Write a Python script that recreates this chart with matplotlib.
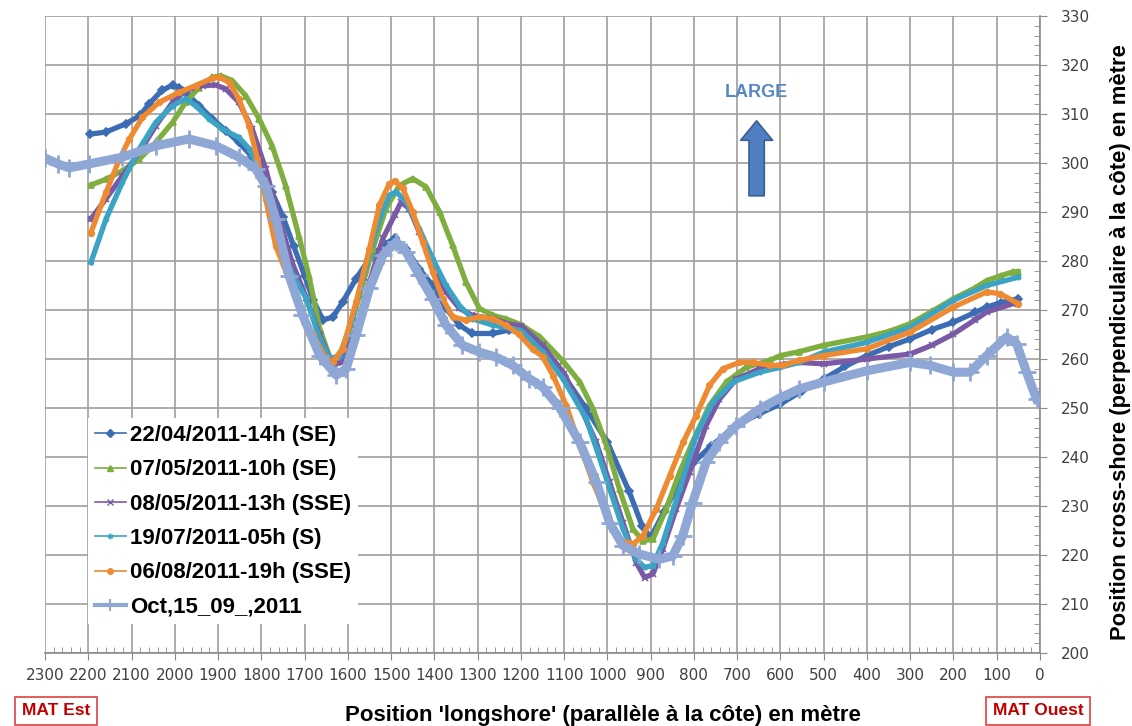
import numpy as np
import matplotlib.pyplot as plt
from matplotlib.lines import Line2D
from matplotlib.ticker import MultipleLocator

# values (x = longshore position, y = cross-shore position)
x_se_2204 = [2195, 2160, 2113, 2080, 2060, 2030, 2005, 1990, 1967, 1944, 1913, 1882, 1852, 1821, 1800,
             1775, 1750, 1725, 1700, 1680, 1658, 1635, 1612, 1581, 1550, 1519, 1492, 1465, 1435, 1404,
             1373, 1342, 1312, 1265, 1227, 1200, 1150, 1100, 1050, 1000, 950, 920, 900, 870, 833, 800,
             760, 700, 650, 600, 550, 500, 450, 400, 350, 300, 250, 200, 150, 123, 90, 50]
y_se_2204 = [305.9, 306.3, 308.0, 309.7, 312.0, 314.8, 315.9, 315.4, 313.7, 311.7, 309.0, 306.6, 304.2, 301.2, 298.8,
             294.0, 289.0, 283.0, 277.0, 272.0, 268.0, 268.5, 271.6, 276.4, 280.5, 283.2, 284.6, 282.5, 278.4, 275.0,
             270.3, 266.9, 265.2, 265.2, 265.9, 265.5, 262.0, 256.5, 250.0, 243.0, 233.0, 226.0, 223.5, 228.7, 234.8, 238.9,
             242.3, 246.5, 248.8, 250.8, 253.5, 255.9, 258.5, 260.7, 262.5, 264.1, 266.0, 267.5, 269.5, 270.6, 271.5, 272.3]

x_se_0705 = [2194, 2159, 2121, 2082, 2044, 2005, 1975, 1944, 1913, 1894, 1867, 1836, 1805, 1775, 1744,
             1713, 1690, 1665, 1642, 1627, 1604, 1573, 1542, 1512, 1481, 1450, 1419, 1388, 1358, 1327,
             1296, 1265, 1235, 1200, 1156, 1102, 1064, 1033, 1002, 972, 941, 918, 895, 864, 833, 802,
             764, 725, 679, 625, 600, 556, 500, 400, 350, 300, 250, 200, 150, 123, 90, 62, 50]
y_se_0705 = [295.5, 296.7, 298.4, 300.8, 304.2, 308.3, 312.4, 315.4, 317.5, 317.8, 316.8, 313.7, 309.0, 303.5, 295.4,
             285.0, 277.0, 266.2, 260.4, 260.0, 263.5, 273.0, 282.5, 290.7, 295.4, 296.8, 295.1, 290.0, 283.2, 275.7,
             270.3, 268.9, 268.2, 267.0, 264.5, 259.5, 255.3, 249.8, 242.3, 233.4, 225.3, 222.9, 223.2, 229.4, 236.9, 243.3,
             250.5, 255.3, 258.3, 259.7, 260.7, 261.5, 262.8, 264.5, 265.6, 267.2, 269.7, 272.3, 274.5, 276.0, 277.0, 277.8, 277.8]

x_sse_0805 = [2194, 2159, 2121, 2082, 2044, 2005, 1975, 1936, 1905, 1882, 1852, 1821, 1790, 1759, 1728,
              1696, 1665, 1635, 1612, 1581, 1550, 1519, 1492, 1477, 1458, 1435, 1404, 1373, 1342, 1312,
              1265, 1219, 1200, 1150, 1100, 1064, 1026, 995, 964, 933, 914, 895, 872, 841, 810, 772,
              741, 702, 648, 587, 556, 500, 400, 300, 250, 200, 150, 123, 62]
y_sse_0805 = [288.6, 292.7, 297.4, 302.2, 307.6, 312.4, 314.8, 315.8, 315.9, 315.1, 312.4, 306.9, 298.8, 288.6, 279.5,
              272.5, 264.8, 258.7, 259.4, 266.2, 275.7, 284.6, 289.3, 292.0, 290.7, 285.9, 279.1, 273.7, 270.3, 268.9,
              268.2, 266.9, 266.8, 262.8, 257.0, 250.5, 243.0, 234.8, 226.6, 218.4, 215.4, 216.1, 221.2, 229.4, 236.9, 246.4,
              251.8, 255.9, 258.0, 259.0, 259.3, 259.0, 260.0, 261.0, 262.8, 265.1, 268.0, 269.6, 271.3]

x_s_1907 = [2194, 2159, 2121, 2082, 2044, 2005, 1975, 1952, 1921, 1890, 1852, 1828, 1805, 1775, 1744,
            1720, 1696, 1665, 1642, 1619, 1589, 1558, 1527, 1504, 1488, 1465, 1435, 1404, 1373, 1342,
            1312, 1265, 1219, 1200, 1150, 1102, 1050, 1025, 964, 933, 914, 895, 872, 833, 795, 756,
            710, 648, 600, 556, 500, 400, 300, 200, 123, 50]
y_s_1907 = [279.7, 288.6, 296.1, 302.9, 308.3, 311.7, 313.1, 311.7, 309.0, 306.9, 305.2, 302.9, 298.8, 290.6, 280.4,
            276.0, 272.3, 264.1, 260.0, 260.7, 268.2, 279.1, 288.6, 293.4, 294.1, 292.0, 286.6, 280.5, 275.0, 270.9,
            268.2, 266.9, 266.2, 265.8, 261.5, 255.9, 248.0, 241.6, 225.3, 219.1, 217.5, 217.8, 222.5, 233.4, 244.3, 251.2,
            255.3, 257.3, 258.3, 259.3, 261.4, 263.4, 266.5, 272.0, 275.0, 276.7]

x_sse_0608 = [2194, 2159, 2128, 2105, 2075, 2036, 1990, 1952, 1913, 1898, 1875, 1852, 1828, 1809, 1790,
              1767, 1744, 1712, 1681, 1650, 1635, 1612, 1581, 1550, 1527, 1504, 1492, 1473, 1450, 1427,
              1404, 1381, 1358, 1327, 1296, 1265, 1235, 1204, 1173, 1150, 1125, 1095, 1064, 1033, 1002,
              972, 941, 918, 887, 856, 825, 795, 764, 733, 695, 664, 625, 595, 556, 500, 400, 300, 200,
              123, 92, 50]
y_sse_0608 = [285.8, 294.0, 300.8, 304.9, 309.3, 312.4, 314.4, 315.8, 317.3, 317.5, 316.5, 313.1, 307.6, 300.8, 292.7,
              283.1, 278.0, 271.0, 265.0, 260.0, 259.4, 262.1, 271.6, 282.5, 291.4, 295.8, 296.3, 294.8, 290.0, 283.9,
              277.8, 272.3, 268.6, 267.9, 268.6, 268.2, 266.9, 265.0, 262.0, 260.5, 256.5, 250.5, 242.3, 234.8, 228.0,
              223.2, 222.2, 223.9, 229.4, 236.2, 243.0, 248.4, 254.6, 258.0, 259.3, 259.3, 258.7, 258.7, 259.7, 260.7,
              262.1, 265.5, 270.6, 273.7, 273.3, 271.3]

x_oct = [2300, 2270, 2244, 2198, 2121, 2044, 1967, 1905, 1852, 1813, 1790, 1767, 1736, 1705, 1665,
         1627, 1604, 1581, 1550, 1519, 1488, 1465, 1435, 1404, 1373, 1335, 1296, 1258, 1219, 1181,
         1150, 1110, 1064, 1025, 995, 964, 926, 880, 849, 826, 803, 772, 741, 702, 648, 602, 556,
         500, 400, 300, 254, 200, 162, 123, 77, 54, 31, 8]
y_oct = [301.0, 299.8, 299.0, 299.8, 301.2, 303.5, 304.9, 303.5, 301.2, 298.8, 295.4, 288.6, 277.0, 269.0, 260.7,
         256.7, 258.0, 264.8, 274.4, 281.2, 283.9, 281.8, 277.1, 272.3, 266.9, 262.8, 261.4, 260.4, 258.7, 256.0,
         254.3, 250.0, 243.0, 234.8, 226.6, 221.9, 220.2, 219.1, 219.8, 223.9, 230.7, 238.9, 243.0, 246.4, 249.8, 252.0, 253.9,
         255.3, 257.6, 259.3, 258.7, 257.3, 257.3, 260.7, 264.5, 263.1, 257.3, 251.8]

labels = ["22/04/2011-14h (SE)", "07/05/2011-10h (SE)", "08/05/2011-13h (SSE)",
          "19/07/2011-05h (S)", "06/08/2011-19h (SSE)", "Oct,15_09_,2011"]

series = [(x_se_2204, y_se_2204), (x_se_0705, y_se_0705), (x_sse_0805, y_sse_0805),
          (x_s_1907, y_s_1907), (x_sse_0608, y_sse_0608), (x_oct, y_oct)]
colors = ['#3C6DB4', '#7DAE3F', '#7A5AA6', '#3BA3C4', '#EE8A31', '#8EA7D5']
markers = ['D', '^', 'x', (6, 2, 0), 'o', '+']

fig = plt.figure(figsize=(11.32, 7.26), dpi=100)
ax = fig.add_axes([0.0398, 0.1006, 0.8789, 0.8774])

for i, (xs, ys) in enumerate(series):
    if i < 5:
        ax.plot(xs, ys, color=colors[i], lw=3.8, marker=markers[i], ms=4, mew=1.2, zorder=3 + i)
    else:
        ax.plot(xs, ys, color=colors[i], lw=6.5, marker='+', ms=13, mew=2, zorder=9)

ax.set_xlim(2300, 0)
ax.set_ylim(200, 330)
ax.xaxis.set_major_locator(MultipleLocator(100))
ax.xaxis.set_minor_locator(MultipleLocator(20))
ax.yaxis.set_major_locator(MultipleLocator(10))
ax.yaxis.set_minor_locator(MultipleLocator(2))
ax.yaxis.tick_right()
ax.grid(True, which='major', color='#9E9E9E', lw=1.2, zorder=0)
ax.set_axisbelow(True)
for s in ['left', 'top']:
    ax.spines[s].set_visible(False)
for s in ['right', 'bottom']:
    ax.spines[s].set_color('#8C8C8C')
    ax.spines[s].set_linewidth(1.2)
ax.tick_params(which='major', direction='out', length=5, color='#8C8C8C', labelsize=11, labelcolor='#404040')
ax.tick_params(which='minor', direction='in', length=4, color='#8C8C8C')
ax.tick_params(axis='y', which='major', pad=10)
ax.tick_params(axis='x', which='major', pad=6)

# legend with thin handles
handles = []
for i in range(6):
    if i < 5:
        handles.append(Line2D([], [], color=colors[i], lw=1.2, marker=markers[i], ms=4))
    else:
        handles.append(Line2D([], [], color=colors[i], lw=3, marker='+', ms=9, mew=1.5))
leg = ax.legend(handles, labels, loc='lower left', bbox_to_anchor=(0.043, 0.045), borderaxespad=0,
                prop=dict(family='Liberation Sans', weight='bold', size=16), frameon=True,
                facecolor='white', edgecolor='none', framealpha=1, fancybox=False,
                handlelength=1.4, handletextpad=0.2, labelspacing=0.6, borderpad=0.3)
leg.set_zorder(20)

# LARGE text and arrow
ax.text(655, 314.3, "LARGE", color='#5787C8', fontsize=13, fontweight='bold', family='Liberation Sans',
        ha='center', va='center', zorder=10)
ax.annotate('', xy=(655, 308.6), xytext=(655, 293.3),
            arrowprops=dict(arrowstyle='simple,head_width=1.15,head_length=0.7,tail_width=0.55',
                            fc='#4F7FC0', ec='#3A5F94', lw=1.2, mutation_scale=20,
                            shrinkA=0, shrinkB=0), zorder=10)

fig.text(0.533, 0.015, "Position 'longshore' (parallèle à la côte) en mètre", ha='center', va='center',
         fontsize=16, fontweight='bold', family='Liberation Sans')
fig.text(0.990, 0.529, "Position cross-shore (perpendiculaire à la côte) en mètre", ha='center', va='center',
         rotation=90, fontsize=15.8, fontweight='bold', family='Liberation Sans')

box = dict(boxstyle='square,pad=0.4', fc='white', ec='#E04040', lw=1.2)
fig.text(0.0495, 0.0207, "MAT Est", color='#C00000', fontsize=12.5, fontweight='bold',
         family='Liberation Sans', ha='center', va='center', bbox=box)
fig.text(0.917, 0.0207, "MAT Ouest", color='#C00000', fontsize=12.5, fontweight='bold',
         family='Liberation Sans', ha='center', va='center', bbox=box)

plt.savefig('out.png', dpi=100)
